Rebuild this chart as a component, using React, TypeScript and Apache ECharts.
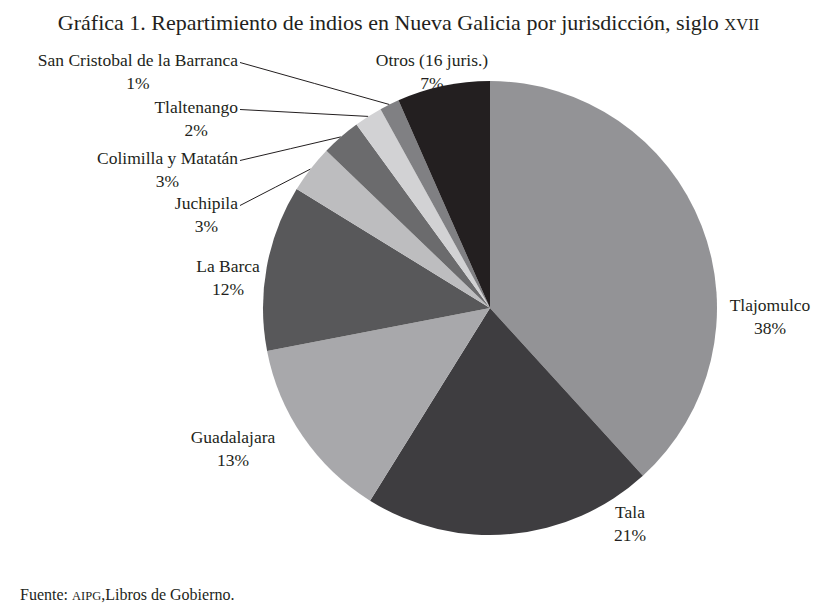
import React, { useEffect, useRef } from "react";
import * as echarts from "echarts";

const categories = [
  "Tlajomulco",
  "Tala",
  "Guadalajara",
  "La Barca",
  "Juchipila",
  "Colimilla y Matatán",
  "Tlaltenango",
  "San Cristobal de la Barranca",
  "Otros (16 juris.)",
];
const values = [38.2, 20.6, 13.1, 11.8, 3.4, 2.8, 2.0, 1.4, 6.6];
const colors = [
  "#939396",
  "#3e3d40",
  "#a8a8ab",
  "#58585a",
  "#bdbdbf",
  "#6b6b6d",
  "#d2d2d4",
  "#808083",
  "#231f20",
];
const leaderLine = [false, false, false, false, true, true, true, true, false];
// label anchor: [x, y (middle of two-line block), 'c' = x is centre, 'r' = x is right edge]
const labelAnchors: [number, number, string][] = [
  [770, 316.5, "c"],
  [630, 523.5, "c"],
  [233, 448, "c"],
  [228, 277.5, "c"],
  [238, 214, "r"],
  [238, 169, "r"],
  [238, 118, "r"],
  [238, 71, "r"],
  [432, 71, "c"],
];

const titleMain = "Gráfica 1. Repartimiento de indios en Nueva Galicia por jurisdicción, siglo ";
const titleSmallCaps = "XVII";
const sourcePrefix = "Fuente: ";
const sourceSmallCaps = "AIPG";
const sourceSuffix = ",Libros de Gobierno.";

const FONT = "Liberation Serif";
const INK = "#231f20";

export default function App() {
  const ref = useRef<HTMLDivElement>(null);
  useEffect(() => {
    if (!ref.current) return;
    const chart = echarts.init(ref.current, undefined, { renderer: "svg" });
    const labelStyle = {
      show: true,
      position: "outside",
      fontFamily: FONT,
      fontWeight: "normal",
      fontSize: 17.5,
      lineHeight: 23,
      color: INK,
      align: "center",
      textBorderWidth: 0,
    };
    const data = categories.map((name, i) => ({
      name,
      value: values[i],
      itemStyle: { color: colors[i] },
      label: { ...labelStyle },
      labelLine: { show: leaderLine[i] },
    }));
    const tok = (size: number, lh: number) => ({
      fontFamily: FONT,
      fontSize: size,
      fontWeight: "normal",
      color: INK,
      lineHeight: lh,
      verticalAlign: "bottom",
    });
    chart.setOption({
      animation: false,
      backgroundColor: "#ffffff",
      textStyle: { fontFamily: FONT, fontWeight: "normal" },
      title: [
        {
          text: `{a|${titleMain}}{b|${titleSmallCaps}}`,
          left: "center",
          top: 2,
          textStyle: {
            fontFamily: FONT,
            fontWeight: "normal",
            rich: { a: tok(22, 26), b: tok(16.5, 21.5) },
          },
        },
        {
          text: `{a|${sourcePrefix}}{b|${sourceSmallCaps}}{a|${sourceSuffix}}`,
          left: 15,
          top: 577,
          textStyle: {
            fontFamily: FONT,
            fontWeight: "normal",
            rich: { a: tok(16, 20), b: tok(12.5, 16.5) },
          },
        },
      ],
      series: [
        {
          type: "pie",
          center: [490, 308],
          radius: 227,
          startAngle: 90,
          clockwise: true,
          avoidLabelOverlap: false,
          minShowLabelAngle: 0,
          itemStyle: { borderWidth: 0 },
          emphasis: { disabled: true },
          label: {
            ...labelStyle,
            formatter: (p: any) => `${p.name}\n${Math.round(p.value)}%`,
          },
          labelLine: {
            show: true,
            lineStyle: { color: INK, width: 1 },
          },
          labelLayout: (params: any) => {
            const i = params.dataIndex;
            const [x, y, anchor] = labelAnchors[i];
            const w = params.labelRect.width;
            const cx = anchor === "r" ? x - w / 2 : x;
            const out: any = { x: cx, y, align: "center", verticalAlign: "middle", fontSize: 17.5 };
            if (leaderLine[i] && params.labelLinePoints) {
              const p0 = params.labelLinePoints[0];
              const ly = y - 11.5 + 3;
              out.labelLinePoints = [
                [x + 2, ly],
                [(x + 2 + p0[0]) / 2, (ly + p0[1]) / 2],
                [p0[0], p0[1]],
              ];
            }
            return out;
          },
          data,
        },
      ],
    });
    return () => chart.dispose();
  }, []);
  return (
    <div
      ref={ref}
      style={{ position: "absolute", left: 0, top: 0, width: 817, height: 605 }}
    />
  );
}
